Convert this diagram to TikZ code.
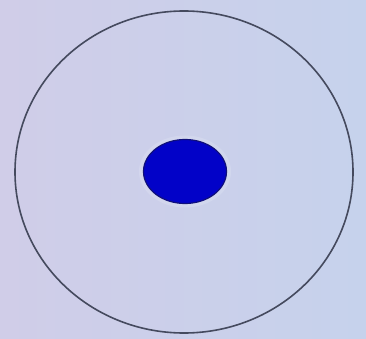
\documentclass[tikz,border=0pt]{standalone}
\usetikzlibrary{shapes.geometric}
\definecolor{bgA}{HTML}{D0CDE8}
\definecolor{bgB}{HTML}{C6D2EC}
\definecolor{ring}{HTML}{454A5E}
\definecolor{nucleus}{HTML}{0202C8}
\definecolor{nucleusedge}{HTML}{10107A}
\begin{document}
\begin{tikzpicture}[x=1pt,y=-1pt]
\useasboundingbox (0,0) rectangle (366,339);
\shade[left color=bgA, right color=bgB] (0,0) rectangle (366,339);
\draw[ring, line width=1.6pt] (184,172) ellipse [x radius=169, y radius=161];
\fill[white, opacity=0.15] (185,171.5) ellipse [x radius=46, y radius=36];
\draw[nucleusedge, fill=nucleus, line width=1.2pt] (185,171.5) ellipse [x radius=41.5, y radius=32];
\end{tikzpicture}
\end{document}
